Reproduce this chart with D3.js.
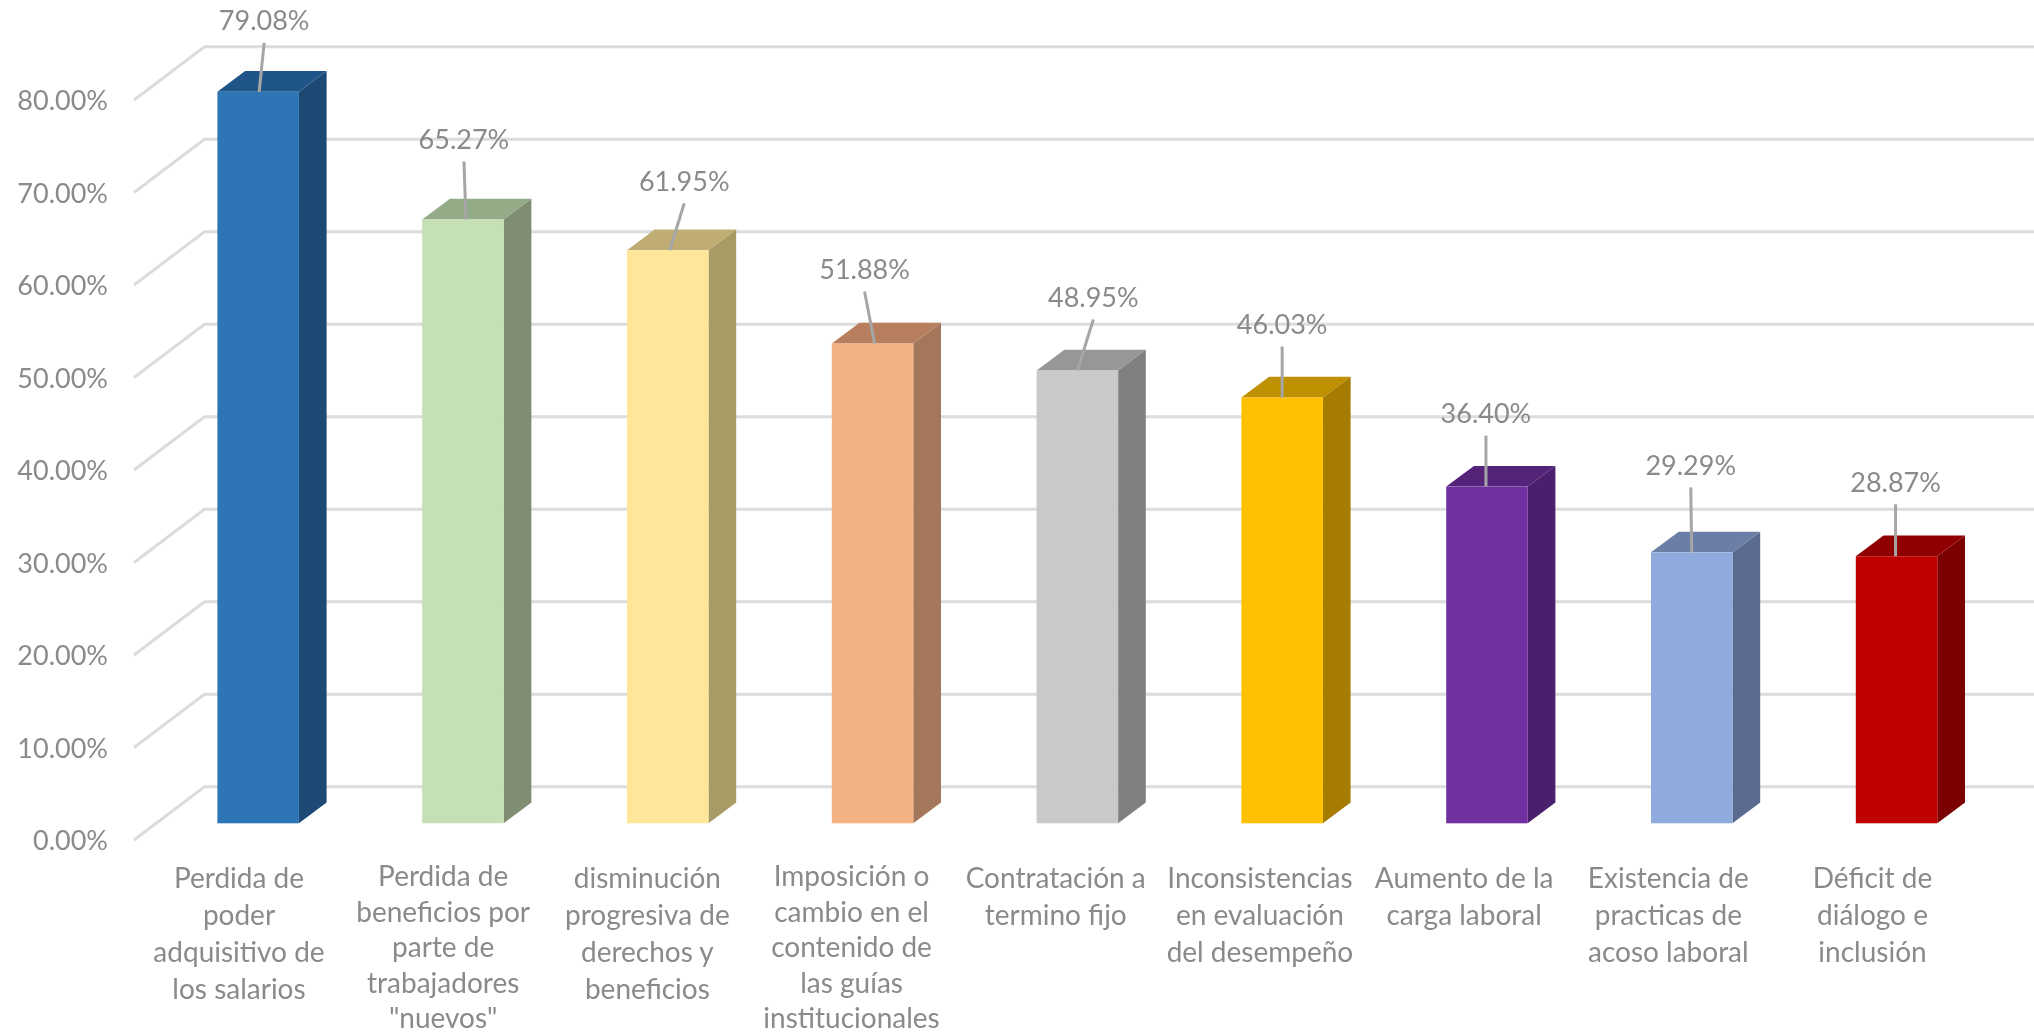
<!DOCTYPE html>
<html><head><meta charset="utf-8">
<script src="https://cdnjs.cloudflare.com/ajax/libs/d3/7.8.5/d3.min.js"></script>
<style>html,body{margin:0;padding:0;background:#fff;overflow:hidden}svg{display:block;filter:blur(0.6px)}text{font-family:Lato,"Open Sans",sans-serif;fill:#8a8a8a}</style>
</head><body><svg id="c" width="2034" height="1036"></svg>
<script>
const categories=[
 ["Perdida de","poder","adquisitivo de","los salarios"],
 ["Perdida de","beneficios por","parte de","trabajadores","\"nuevos\""],
 ["disminución","progresiva de","derechos y","beneficios"],
 ["Imposición o","cambio en el","contenido de","las guías","institucionales"],
 ["Contratación a","termino fijo"],
 ["Inconsistencias","en evaluación","del desempeño"],
 ["Aumento de la","carga laboral"],
 ["Existencia de","practicas de","acoso laboral"],
 ["Déficit de","diálogo e","inclusión"]];
const values=[79.08,65.27,61.95,51.88,48.95,46.03,36.40,29.29,28.87];
const tickValues=[0,10,20,30,40,50,60,70,80];
const frontColors=["#2E75B6","#C5E0B4","#FFE699","#F4B183","#C9C9C9","#FFC000","#7030A0","#8FAADC","#C00000"];
const topColors=["#1F5588","#94AB87","#BFAD73","#B87F5E","#979797","#BF9000","#54247A","#6B7FA6","#900000"];
const sideColors=["#1C4A75","#7F8E73","#A89B66","#A4775A","#808080","#A67C00","#4A1F6B","#5B6B90","#7B0000"];
// label layout: lift of the label above the bar top, label x shift from bar centre, leader foot shift
const labelLift=[72,81,70,75,74,74,74,88,75];
const labelShift=[6,1,16.5,-8,16,0,-1,-1,-1];
const footShift=[1,3,2,2,0,0,-1,0,-1];

const svg=d3.select("#c");
const ids=values.map((d,i)=>i);
const step=204.8,barW=81.5,left0=217.4;
const xBar=d3.scaleLinear().domain([0,8]).range([left0,left0+step*8]);
const xLabel=d3.scaleLinear().domain([0,8]).range([239,1872.5]);
const yAxis=d3.scaleLinear().domain([0,80]).range([840,100]);
const yBack=d3.scaleLinear().domain([0,80]).range([786.7,46.7]);
const yBar=d3.scaleLinear().domain([0,80]).range([823.3,83.3]);
const depthX=27.7,depthY=20.7,frontX=134,backX=204.5;

const grid=svg.append("g").attr("fill","none").attr("stroke","#DCDCDC").attr("stroke-width",3);
grid.selectAll("path").data(tickValues).join("path")
 .attr("d",t=>`M${frontX},${yAxis(t)}L${backX},${yBack(t)}L2034,${yBack(t)}`);

const ax=svg.append("g").attr("transform","translate(108,1)")
 .call(d3.axisLeft(yAxis).tickValues(tickValues).tickSize(0).tickPadding(0).tickFormat(t=>t.toFixed(2)+"%"));
ax.select(".domain").remove();
ax.selectAll("text").attr("font-size",27).style("font-family","Lato").style("fill","#8a8a8a");

const bars=svg.append("g").selectAll("g").data(ids).join("g");
bars.append("path").attr("fill",i=>sideColors[i])
 .attr("d",i=>{const r=xBar(i)+barW,t=yBar(values[i]),b=yBar(0);return `M${r},${t}L${r+depthX},${t-depthY}L${r+depthX},${b-depthY}L${r},${b}Z`;});
bars.append("path").attr("fill",i=>topColors[i])
 .attr("d",i=>{const l=xBar(i),t=yBar(values[i]);return `M${l},${t}L${l+depthX},${t-depthY}L${l+barW+depthX},${t-depthY}L${l+barW},${t}Z`;});
bars.append("rect").attr("fill",i=>frontColors[i])
 .attr("x",i=>xBar(i)).attr("width",barW)
 .attr("y",i=>yBar(values[i])).attr("height",i=>yBar(0)-yBar(values[i]));
bars.append("line").attr("stroke","#A6A6A6").attr("stroke-width",3)
 .attr("x1",i=>xBar(i)+barW/2+labelShift[i]).attr("y1",i=>yBar(values[i])-labelLift[i]+23)
 .attr("x2",i=>xBar(i)+barW/2+footShift[i]).attr("y2",i=>yBar(values[i]));
bars.append("text").attr("text-anchor","middle").attr("dominant-baseline","central")
 .attr("font-size",27).attr("x",i=>xBar(i)+barW/2+labelShift[i]).attr("y",i=>yBar(values[i])-labelLift[i])
 .text(i=>values[i].toFixed(2)+"%");

const lab=svg.append("g").selectAll("text").data(ids).join("text")
 .attr("text-anchor","middle").attr("font-size",28);
// the five-line labels are set slightly tighter so that they stay inside the picture
lab.selectAll("tspan").data(i=>categories[i].map(s=>({s,i,n:categories[i].length}))).join("tspan")
 .attr("x",d=>xLabel(d.i))
 .attr("y",(d,k)=>d.n===5?886+k*35.5:887.6+k*37)
 .text(d=>d.s);
</script></body></html>
